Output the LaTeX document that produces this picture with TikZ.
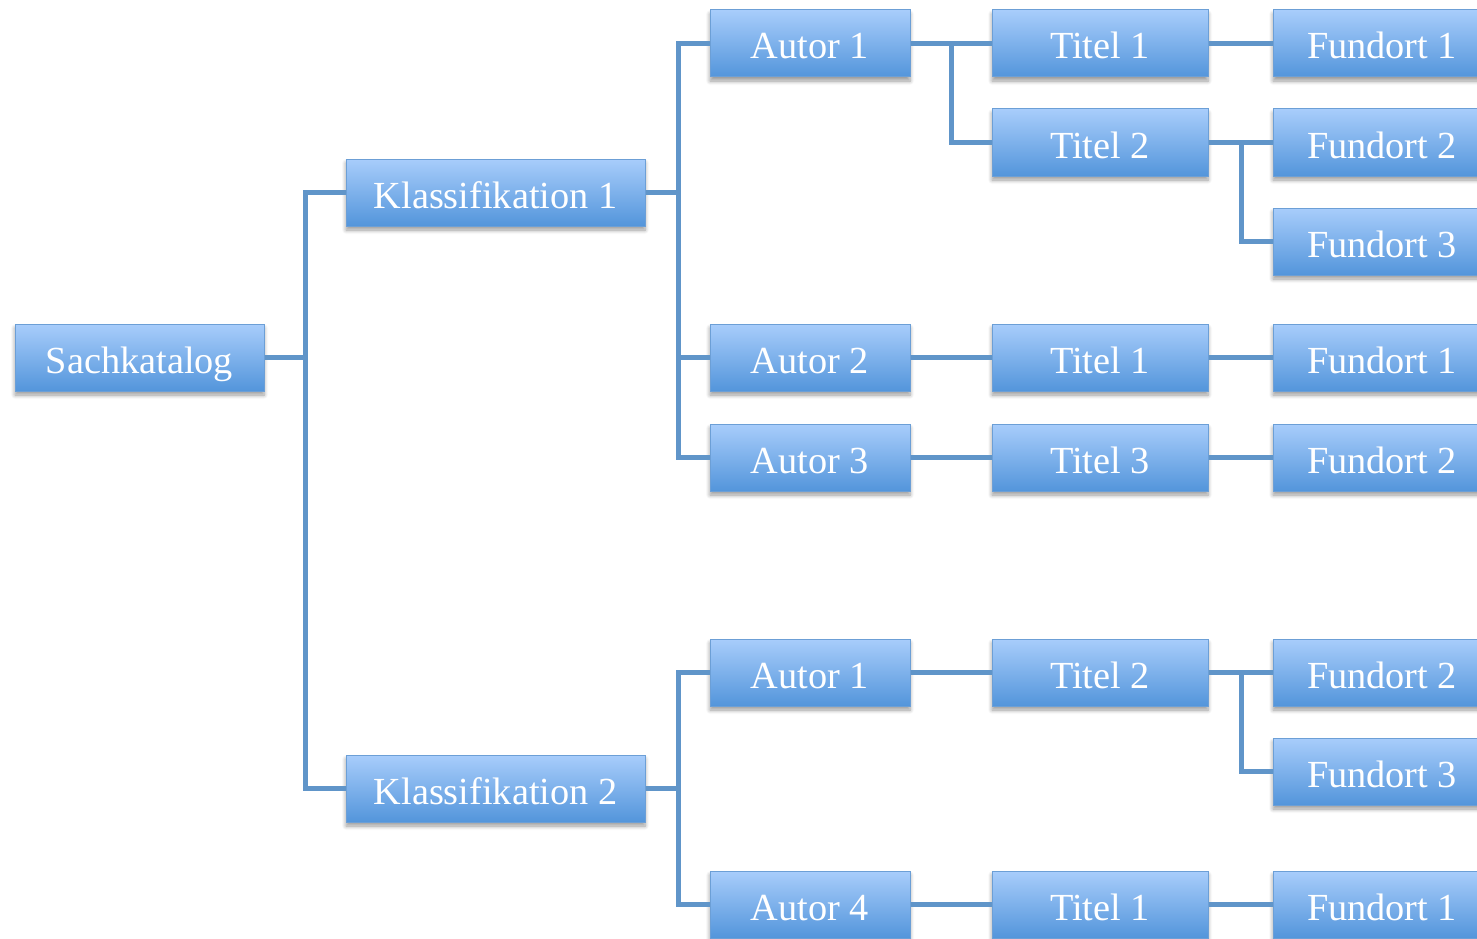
\documentclass[tikz,border=0pt]{standalone}
\usepackage{fontspec}
\setmainfont{Liberation Serif}
\usetikzlibrary{shadows.blur}
\definecolor{boxtop}{HTML}{A8CDFB}
\definecolor{boxbot}{HTML}{5395DB}
\definecolor{boxedge}{HTML}{6C9FD6}
\definecolor{wire}{HTML}{6095C9}
\tikzset{
  box/.style={draw=boxedge, line width=1pt, top color=boxtop, bottom color=boxbot,
    minimum height=67pt, inner sep=0pt, text=white,
    text height=31pt, text depth=0pt,
    font=\fontsize{38.3}{40}\selectfont,
    blur shadow={shadow xshift=0pt, shadow yshift=-4pt, shadow blur radius=4pt,
      shadow blur steps=6, shadow opacity=40}},
  rootbox/.style={box, minimum width=249pt},
  klassbox/.style={box, minimum width=299pt},
  autorbox/.style={box, minimum width=200pt},
  titelbox/.style={box, minimum width=216pt},
  fundbox/.style={box, minimum width=218pt},
  wirestyle/.style={draw=wire, line width=5pt, line join=miter},
}
\begin{document}
\begin{tikzpicture}[x=1pt, y=-1pt]
\useasboundingbox (0,0) rectangle (1477,939);
\clip (0,0) rectangle (1477,939);

% root and classifications
\node[rootbox]  (S)  at (139.5,357.5) {Sachkatalog};
\node[klassbox] (K1) at (495.5,192.5) {Klassifikation 1};
\node[klassbox] (K2) at (495.5,788.5) {Klassifikation 2};

% authors
\node[autorbox] (A1)  at (810,43.5)  {Autor 1};
\node[autorbox] (A2)  at (810,357.5) {Autor 2};
\node[autorbox] (A3)  at (810,457.5) {Autor 3};
\node[autorbox] (A1b) at (810,672.5) {Autor 1};
\node[autorbox] (A4)  at (810,904.5) {Autor 4};

% titles
\node[titelbox] (T1a) at (1100,43.5)  {Titel 1};
\node[titelbox] (T2a) at (1100,142.5) {Titel 2};
\node[titelbox] (T1b) at (1100,357.5) {Titel 1};
\node[titelbox] (T3)  at (1100,457.5) {Titel 3};
\node[titelbox] (T2b) at (1100,672.5) {Titel 2};
\node[titelbox] (T1c) at (1100,904.5) {Titel 1};

% locations
\node[fundbox] (F1a) at (1382,43.5)  {Fundort 1};
\node[fundbox] (F2a) at (1382,142.5) {Fundort 2};
\node[fundbox] (F3a) at (1382,241.5) {Fundort 3};
\node[fundbox] (F1b) at (1382,357.5) {Fundort 1};
\node[fundbox] (F2b) at (1382,457.5) {Fundort 2};
\node[fundbox] (F2c) at (1382,672.5) {Fundort 2};
\node[fundbox] (F3b) at (1382,771.5) {Fundort 3};
\node[fundbox] (F1c) at (1382,904.5) {Fundort 1};

% branch points
\coordinate (jS)  at (305,357.5);
\coordinate (jK1) at (678,192.5);
\coordinate (jK2) at (678,788.5);
\coordinate (jA1) at (951,43.5);
\coordinate (jT2a) at (1241,142.5);
\coordinate (jT2b) at (1241,672.5);

% connectors
\draw[wirestyle] (S.east) -- (jS) |- (K1.west);
\draw[wirestyle] (jS) |- (K2.west);

\draw[wirestyle] (K1.east) -- (jK1) |- (A1.west);
\draw[wirestyle] (jK1) |- (A2.west);
\draw[wirestyle] (jK1) |- (A3.west);

\draw[wirestyle] (K2.east) -- (jK2) |- (A1b.west);
\draw[wirestyle] (jK2) |- (A4.west);

\draw[wirestyle] (A1.east) -- (jA1) -- (T1a.west);
\draw[wirestyle] (jA1) |- (T2a.west);
\draw[wirestyle] (A2.east) -- (T1b.west);
\draw[wirestyle] (A3.east) -- (T3.west);
\draw[wirestyle] (A1b.east) -- (T2b.west);
\draw[wirestyle] (A4.east) -- (T1c.west);

\draw[wirestyle] (T1a.east) -- (F1a.west);
\draw[wirestyle] (T2a.east) -- (jT2a) -- (F2a.west);
\draw[wirestyle] (jT2a) |- (F3a.west);
\draw[wirestyle] (T1b.east) -- (F1b.west);
\draw[wirestyle] (T3.east) -- (F2b.west);
\draw[wirestyle] (T2b.east) -- (jT2b) -- (F2c.west);
\draw[wirestyle] (jT2b) |- (F3b.west);
\draw[wirestyle] (T1c.east) -- (F1c.west);
\end{tikzpicture}
\end{document}
